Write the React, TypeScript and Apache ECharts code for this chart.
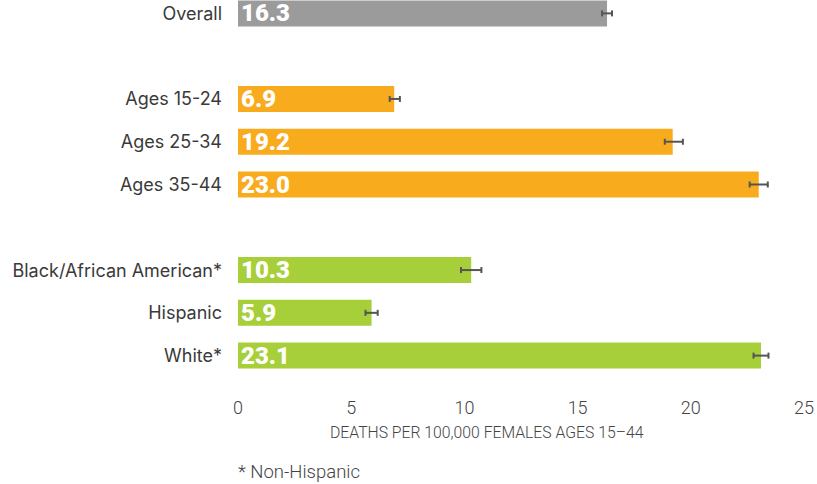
import React, { useEffect, useRef } from "react";
import * as echarts from "echarts";

const categories = ["Overall", "", "Ages 15-24", "Ages 25-34", "Ages 35-44", " ", "Black/African American*", "Hispanic", "White*"];
const values: (number | null)[] = [16.3, null, 6.9, 19.2, 23.0, null, 10.3, 5.9, 23.1];
const errLow: (number | null)[] = [16.08, null, 6.7, 18.85, 22.6, null, 9.85, 5.63, 22.77];
const errHigh: (number | null)[] = [16.52, null, 7.15, 19.65, 23.4, null, 10.75, 6.17, 23.43];
const groupColors = ["#9b9b9b", null, "#f9ab1e", "#f9ab1e", "#f9ab1e", null, "#a7cf39", "#a7cf39", "#a7cf39"];
const xTicks = [0, 5, 10, 15, 20, 25];
const axisTitle = "DEATHS PER 100,000 FEMALES AGES 15\u201344";
const footnote = "* Non-Hispanic";

const OFF = 8;

export default function App() {
  const ref = useRef<HTMLDivElement>(null);
  useEffect(() => {
    if (!ref.current) return;
    const chart = echarts.init(ref.current, null, { renderer: "svg" });
    const barData = values.map((v, i) =>
      v === null ? "-" : { value: v, itemStyle: { color: groupColors[i] as string } }
    );
    const errData = values
      .map((v, i) => (v === null ? null : [i, errLow[i], errHigh[i]]))
      .filter((d) => d !== null);
    chart.setOption({
      animation: false,
      grid: { left: 238, right: 11, top: 0, height: 385, containLabel: false },
      xAxis: {
        type: "value",
        min: xTicks[0],
        max: xTicks[xTicks.length - 1],
        interval: 5,
        axisLine: { show: false },
        axisTick: { show: false },
        splitLine: { show: false },
        axisLabel: {
          margin: 21,
          fontFamily: "Roboto",
          fontWeight: 300,
          fontSize: 18,
          color: "#444",
        },
      },
      yAxis: {
        type: "category",
        data: categories,
        inverse: true,
        axisLine: { show: false },
        axisTick: { show: false },
        axisLabel: {
          margin: 16,
          fontFamily: "Inter",
          fontWeight: 400,
          fontSize: 18,
          color: "#3a3a3a",
        },
      },
      series: [
        {
          type: "bar",
          data: barData,
          barWidth: 26,
          label: {
            show: true,
            position: "insideLeft",
            distance: 3,
            formatter: (p: any) => Number(p.value).toFixed(1),
            color: "#fff",
            fontFamily: "Roboto",
            fontWeight: 900,
            fontSize: 24,
          },
        },
        {
          type: "custom",
          data: errData,
          encode: { x: [1, 2], y: 0 },
          renderItem: (params: any, api: any) => {
            const y = api.value(0);
            const lo = api.coord([api.value(1), y]);
            const hi = api.coord([api.value(2), y]);
            const cap = 3;
            const style = { stroke: "#555", lineWidth: 2 };
            return {
              type: "group",
              children: [
                { type: "line", shape: { x1: lo[0], y1: lo[1], x2: hi[0], y2: hi[1] }, style },
                { type: "line", shape: { x1: lo[0], y1: lo[1] - cap, x2: lo[0], y2: lo[1] + cap }, style },
                { type: "line", shape: { x1: hi[0], y1: hi[1] - cap, x2: hi[0], y2: hi[1] + cap }, style },
              ],
            };
          },
          z: 5,
        },
      ],
      graphic: [
        {
          type: "text",
          left: 330,
          top: 424 + OFF,
          style: { text: axisTitle, fontFamily: "Roboto", fontWeight: 300, fontSize: 15.75, fill: "#444" },
        },
        {
          type: "text",
          left: 238,
          top: 462 + OFF,
          style: { text: footnote, fontFamily: "Roboto", fontWeight: 300, fontSize: 18.5, fill: "#444" },
        },
      ],
    });
    return () => chart.dispose();
  }, []);
  return <div ref={ref} style={{ position: "absolute", left: 0, top: -OFF, width: 817, height: 484 + OFF }} />;
}
